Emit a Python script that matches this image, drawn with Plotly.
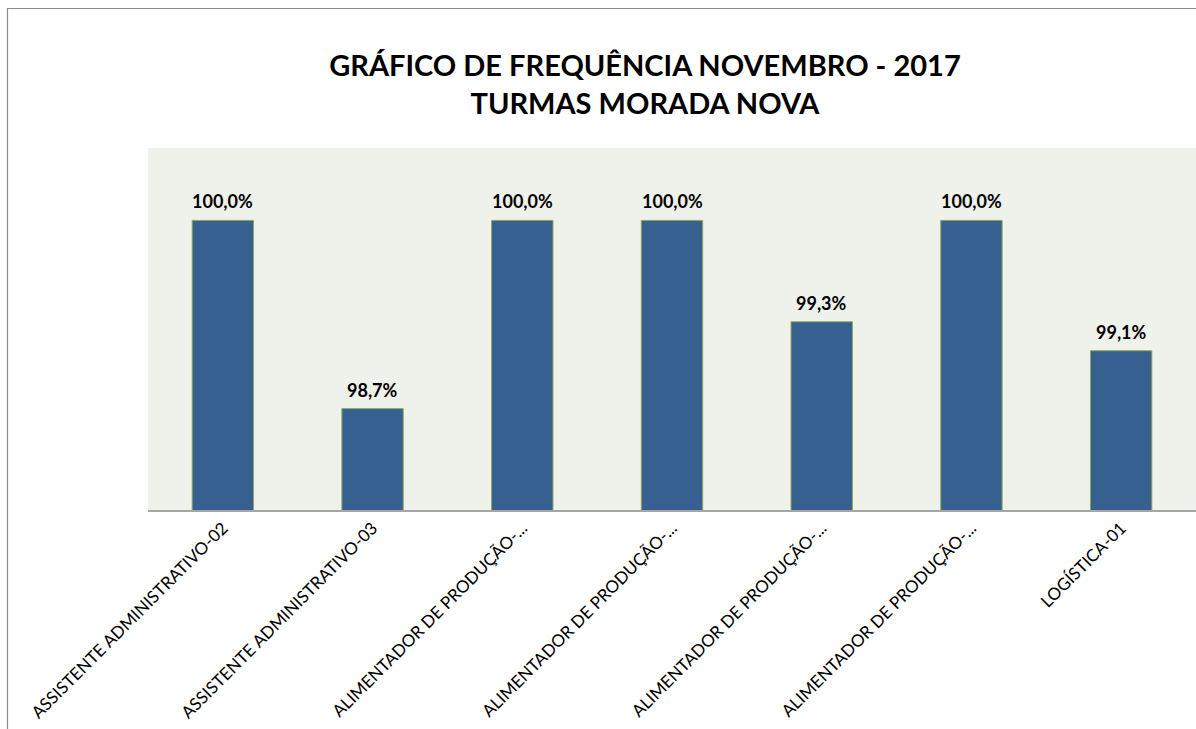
import plotly.graph_objects as go

categories = [
    "ASSISTENTE ADMINISTRATIVO-02",
    "ASSISTENTE ADMINISTRATIVO-03",
    "ALIMENTADOR DE PRODUÇÃO-...",
    "ALIMENTADOR DE PRODUÇÃO-...",
    "ALIMENTADOR DE PRODUÇÃO-...",
    "ALIMENTADOR DE PRODUÇÃO-...",
    "LOGÍSTICA-01",
]
values = [100.0, 98.7, 100.0, 100.0, 99.3, 100.0, 99.1]
labels = ["100,0%", "98,7%", "100,0%", "100,0%", "99,3%", "100,0%", "99,1%"]

positions = list(range(len(categories)))

W, H = 1196, 729
ml, mr, mt, mb = 148, 0, 148, 729 - 510
pw, ph = W - ml - mr, H - mt - mb

fig = go.Figure()
fig.add_trace(go.Bar(
    x=positions, y=values,
    marker=dict(color="#36608F", line=dict(color="#8FA65A", width=1)),
    width=0.41,
    hoverinfo="skip",
))

for p, v, t in zip(positions, values, labels):
    fig.add_annotation(x=p, y=v, text=t, showarrow=False, yanchor="bottom",
                       yshift=6, font=dict(family="Lato", size=18, color="#000000",
                                           weight="bold"))

# outer chart border (continues past right and bottom edges)
fig.add_shape(type="rect", xref="paper", yref="paper",
              x0=(7.5 - ml) / pw, x1=(W + 50 - ml) / pw,
              y0=-(H + 50 - mt - ph) / ph, y1=1 + (mt - 8.5) / ph,
              line=dict(color="#8C8C8C", width=1.2), fillcolor="rgba(0,0,0,0)", layer="below")

fig.update_layout(
    width=W, height=H,
    margin=dict(l=ml, r=mr, t=mt, b=mb),
    paper_bgcolor="#FFFFFF",
    plot_bgcolor="#EFF2EA",
    showlegend=False,
    title=dict(
        text="GRÁFICO DE FREQUÊNCIA NOVEMBRO - 2017<br>TURMAS MORADA NOVA",
        x=645 / W, xref="container", xanchor="center",
        y=(H - 76) / H, yref="container", yanchor="middle",
        font=dict(family="Lato", size=29, color="#000000", weight="bold"),
    ),
    xaxis=dict(
        tickmode="array", tickvals=positions, ticktext=categories,
        range=[-0.5, len(categories) - 0.5],
        tickangle=-45, showgrid=False, showline=True, linecolor="#A6A6A6", linewidth=1.5,
        ticks="", tickfont=dict(family="Lato", size=17, color="#000000"),
        fixedrange=True,
    ),
    yaxis=dict(range=[98.0, 100.5], showgrid=False, showticklabels=False, zeroline=False,
               showline=False, ticks="", fixedrange=True),
)

fig.write_html("out.html",
               config={"displayModeBar": False, "staticPlot": True},
               post_script="document.body.style.margin='0';document.body.style.overflow='hidden';")
